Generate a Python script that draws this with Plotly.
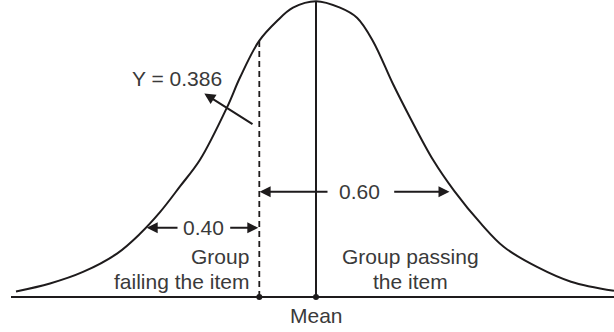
"""Normal curve split into the groups failing and passing an item."""

import plotly.graph_objects as go

# curve: x in sigma-ish units from the mean, height relative to the peak
curve_x = [-3.00, -2.66, -2.33, -1.99, -1.76, -1.56, -1.36, -1.16, -0.89, -0.76, -0.57,
           -0.39, -0.23, 0.00, 0.24, 0.41, 0.57, 0.77, 0.94, 1.17, 1.38, 1.65, 1.88,
           2.21, 2.55, 2.98]
curve_y = [0.019, 0.046, 0.085, 0.147, 0.214, 0.287, 0.374, 0.464, 0.641, 0.742, 0.865,
           0.933, 0.978, 1.000, 0.978, 0.944, 0.865, 0.720, 0.607, 0.464, 0.360, 0.248,
           0.169, 0.102, 0.052, 0.021]

mean_x = 0.0
cut_x = -0.567
cut_y = 0.868
baseline_x = [-3.05, 3.05]

ordinate_label = "Y = 0.386"
fail_share = "0.40"
pass_share = "0.60"

INK = "#1e1b1c"
TEXT = "#3a3a3a"
FONT = "Liberation Sans, Arial, sans-serif"

fig = go.Figure()

fig.add_trace(go.Scatter(x=curve_x, y=curve_y, mode="lines",
                         line=dict(color=INK, width=2, shape="spline", smoothing=1.0)))
fig.add_trace(go.Scatter(x=baseline_x, y=[0, 0], mode="lines",
                         line=dict(color=INK, width=2)))
fig.add_trace(go.Scatter(x=[mean_x, mean_x], y=[0, 1.0], mode="lines",
                         line=dict(color=INK, width=2)))
fig.add_trace(go.Scatter(x=[cut_x, cut_x], y=[0, cut_y], mode="lines",
                         line=dict(color=INK, width=1.8, dash="6px,4px")))
fig.add_trace(go.Scatter(x=[cut_x, mean_x], y=[0, 0], mode="markers",
                         marker=dict(color=INK, size=6)))


def arrow(x_tail, x_tip, y_tail, y_tip):
    fig.add_annotation(x=x_tip, y=y_tip, ax=x_tail, ay=y_tail, xref="x", yref="y",
                       axref="x", ayref="y", text="", showarrow=True,
                       arrowhead=2, arrowsize=1.1, arrowwidth=2, arrowcolor=INK)


def label(x, y, text, anchor="center"):
    fig.add_annotation(x=x, y=y, xref="x", yref="y", text=text, showarrow=False,
                       xanchor=anchor, yanchor="middle",
                       font=dict(family=FONT, size=21, color=TEXT))


# 0.40 span
arrow(-1.37, -1.693, 0.234, 0.234)
arrow(-0.873, -0.577, 0.234, 0.234)
label(-1.13, 0.234, fail_share)

# 0.60 span
arrow(0.13, -0.564, 0.356, 0.356)
arrow(0.767, 1.335, 0.356, 0.356)
label(0.43, 0.356, pass_share)

# ordinate
label(-1.39, 0.739, ordinate_label)
arrow(-0.62, -1.117, 0.581, 0.688)

label(-0.65, 0.136, "Group", anchor="right")
label(-0.65, 0.054, "failing the item", anchor="right")
label(0.94, 0.136, "Group passing")
label(0.94, 0.054, "the item")
label(0.0, -0.061, "Mean")

fig.update_layout(
    width=614, height=332,
    margin=dict(l=0, r=0, t=0, b=0),
    paper_bgcolor="white", plot_bgcolor="white",
    showlegend=False,
    xaxis=dict(range=[-3.16, 2.98], visible=False, fixedrange=True),
    yaxis=dict(range=[-0.118, 1.004], visible=False, fixedrange=True),
)

# the page body has a default margin; drop it so the figure fills the window
fig.write_html("out.html", config={"displayModeBar": False},
               post_script="document.body.style.margin='0';")
